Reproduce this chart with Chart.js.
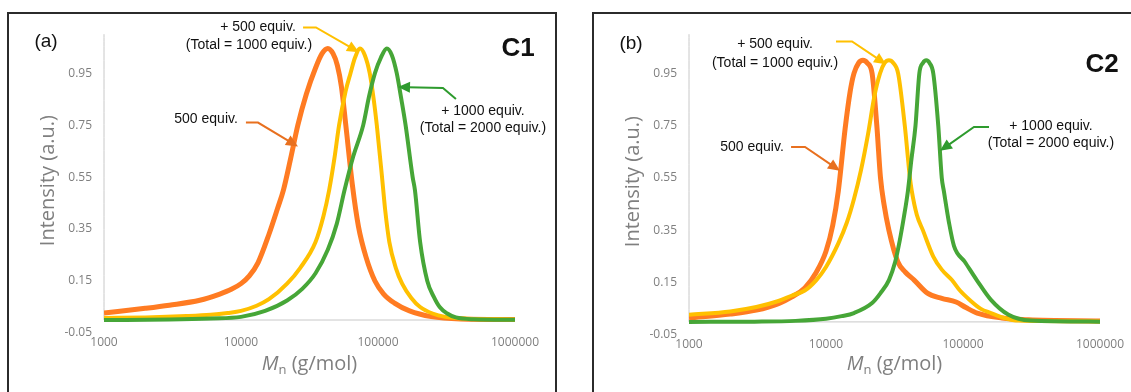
<!DOCTYPE html>
<html>
<head>
<meta charset="utf-8">
<script src="https://cdn.jsdelivr.net/npm/chart.js@4.4.1/dist/chart.umd.min.js"></script>
<style>
html, body { margin: 0; padding: 0; background: #fff; overflow: hidden; width: 1131px; height: 392px; }
.frame { position: absolute; top: 12px; height: 420px; border: 2px solid #2b2b2b; box-sizing: border-box; }
.box { position: absolute; }
</style>
</head>
<body>
<div class="frame" style="left:7px;width:550px"></div>
<div class="frame" style="left:592px;width:560px"></div>
<div class="box" style="left:10px;top:15px"><canvas id="c1" width="543" height="377"></canvas></div>
<div class="box" style="left:595px;top:15px"><canvas id="c2" width="536" height="377"></canvas></div>
<script>
"use strict";

var xTicks = [1000, 10000, 100000, 1000000];
var yTicks = [-0.05, 0.15, 0.35, 0.55, 0.75, 0.95];
var yMin = -0.05, yMax = 1.1;

// C1 - 500 equiv.
var c1OrangeM = [1000, 2000, 3000, 5000, 7000, 8500, 10000, 11500, 13300, 16000, 18500, 20400, 23000, 26000, 30000, 35000, 39000, 43000, 47000, 50500, 54000, 58500, 65000, 72000, 82000, 95000, 110000, 132000, 170000, 245000, 400000, 1000000];
var c1OrangeI = [0.027, 0.045, 0.057, 0.076, 0.1, 0.118, 0.14, 0.17, 0.22, 0.33, 0.43, 0.5, 0.62, 0.75, 0.87, 0.97, 1.025, 1.045, 1.025, 0.98, 0.9, 0.74, 0.52, 0.36, 0.24, 0.15, 0.1, 0.065, 0.035, 0.013, 0.004, 0.002];
// C1 - + 500 equiv. (total 1000)
var c1YellowM = [1000, 2000, 4000, 6000, 8000, 10000, 13000, 16000, 21700, 27000, 35000, 40000, 44000, 48000, 52000, 58000, 63000, 68000, 74000, 80000, 87000, 93000, 98000, 107000, 113000, 121000, 135000, 150000, 175000, 203000, 250000, 310000, 450000, 1000000];
var c1YellowI = [0.008, 0.01, 0.015, 0.02, 0.027, 0.035, 0.055, 0.08, 0.14, 0.2, 0.3, 0.4, 0.5, 0.62, 0.75, 0.88, 0.95, 1.01, 1.045, 1.02, 0.95, 0.85, 0.75, 0.55, 0.42, 0.3, 0.2, 0.14, 0.085, 0.05, 0.025, 0.012, 0.005, 0.002];
// C1 - + 1000 equiv. (total 2000)
var c1GreenM = [1000, 3000, 6000, 10000, 15000, 21700, 28000, 35000, 43000, 50000, 57000, 66000, 78000, 86000, 95000, 105000, 116000, 126000, 137000, 148000, 159000, 179000, 186000, 203000, 229000, 255000, 282000, 320000, 370000, 500000, 1000000];
var c1GreenI = [0.0, 0.002, 0.006, 0.012, 0.035, 0.075, 0.12, 0.18, 0.27, 0.37, 0.5, 0.63, 0.75, 0.86, 0.95, 1.01, 1.045, 1.02, 0.95, 0.85, 0.75, 0.55, 0.5, 0.3, 0.15, 0.09, 0.05, 0.025, 0.01, 0.003, 0.001];

// C2 - 500 equiv.
var c2OrangeM = [1000, 2000, 3100, 4500, 5600, 7000, 8500, 10000, 11200, 12300, 13800, 15000, 16000, 17300, 18600, 20000, 21700, 23500, 25000, 26500, 28800, 33400, 38000, 44000, 55000, 70000, 89000, 105000, 127000, 192000, 300000, 1000000];
var c2OrangeI = [0.015, 0.03, 0.045, 0.07, 0.095, 0.13, 0.19, 0.27, 0.37, 0.5, 0.74, 0.88, 0.95, 0.99, 1.0, 0.99, 0.95, 0.75, 0.55, 0.45, 0.35, 0.23, 0.19, 0.16, 0.11, 0.09, 0.076, 0.055, 0.034, 0.015, 0.008, 0.004];
// C2 - + 500 equiv. (total 1000)
var c2YellowM = [1000, 2000, 3100, 4500, 5600, 7000, 8500, 10000, 12300, 14200, 16000, 18000, 20300, 22500, 24800, 26800, 28800, 31000, 33600, 37600, 41000, 42300, 46000, 51000, 60700, 70000, 83000, 95000, 112000, 135000, 160000, 200000, 256000, 1000000];
var c2YellowI = [0.027, 0.04, 0.057, 0.08, 0.1, 0.12, 0.16, 0.21, 0.3, 0.38, 0.47, 0.58, 0.72, 0.86, 0.95, 0.99, 1.0, 0.99, 0.95, 0.75, 0.55, 0.5, 0.41, 0.35, 0.25, 0.2, 0.16, 0.12, 0.084, 0.05, 0.034, 0.015, 0.005, 0.002];
// C2 - + 1000 equiv. (total 2000)
var c2GreenM = [1000, 3000, 6000, 10000, 13000, 16000, 21700, 25000, 28800, 32000, 34500, 37000, 39600, 42000, 45000, 48000, 51000, 54000, 57000, 60700, 66000, 70000, 72500, 79000, 86000, 103000, 126000, 160000, 215000, 310000, 1000000];
var c2GreenI = [0.0, 0.001, 0.004, 0.012, 0.022, 0.034, 0.072, 0.11, 0.16, 0.23, 0.31, 0.4, 0.5, 0.62, 0.75, 0.95, 0.99, 1.0, 0.99, 0.95, 0.75, 0.55, 0.5, 0.38, 0.29, 0.23, 0.16, 0.084, 0.027, 0.005, 0.001];

// annotations, positions as [log10(Mn), intensity]
var c1Notes = [
    { text: '(a)', at: [2.577, 1.069], font: '19px "Liberation Sans"' },
    { text: 'C1', at: [6.022, 1.042], font: 'bold 26px "Liberation Sans"' },
    { text: '+ 500 equiv.', at: [4.124, 1.126] },
    { text: '(Total = 1000 equiv.)', at: [4.058, 1.057] },
    { text: '500 equiv.', at: [3.745, 0.775] },
    { text: '+ 1000 equiv.', at: [5.766, 0.805] },
    { text: '(Total = 2000 equiv.)', at: [5.766, 0.740] }
];
var c1Arrows = [
    { color: '#FFC000', path: [[4.453, 1.126], [4.547, 1.126], [4.861, 1.031]] },
    { color: '#E8701F', path: [[4.036, 0.760], [4.124, 0.760], [4.416, 0.668]] },
    { color: '#2E9B2E', path: [[5.569, 0.851], [5.474, 0.893], [5.146, 0.897]] }
];
var c2Notes = [
    { text: '(b)', at: [2.577, 1.065], font: '19px "Liberation Sans"' },
    { text: 'C2', at: [6.015, 0.981], font: 'bold 26px "Liberation Sans"' },
    { text: '+ 500 equiv.', at: [3.628, 1.061] },
    { text: '(Total = 1000 equiv.)', at: [3.628, 0.989] },
    { text: '500 equiv.', at: [3.460, 0.669] },
    { text: '+ 1000 equiv.', at: [5.642, 0.749] },
    { text: '(Total = 2000 equiv.)', at: [5.642, 0.684] }
];
var c2Arrows = [
    { color: '#FFC000', path: [[4.073, 1.072], [4.190, 1.072], [4.438, 0.985]] },
    { color: '#E8701F', path: [[3.745, 0.669], [3.847, 0.669], [4.102, 0.578]] },
    { color: '#2E9B2E', path: [[5.190, 0.745], [5.080, 0.745], [4.832, 0.654]] }
];

function toPoints(m, v) {
    return m.map(function(x, i) { return { x: x, y: v[i] }; });
}

var notesPlugin = {
    id: 'notes',
    afterDraw: function(chart, args, opts) {
        var ctx = chart.ctx, xs = chart.scales.x, ys = chart.scales.y, area = chart.chartArea;
        function px(p) {
            return [xs.getPixelForValue(Math.pow(10, p[0])), ys.getPixelForValue(p[1])];
        }
        ctx.save();
        // axis titles
        ctx.fillStyle = '#7f7f7f';
        ctx.font = '20px "Open Sans"';
        ctx.textAlign = 'center';
        ctx.textBaseline = 'middle';
        ctx.save();
        ctx.translate(38, (area.top + area.bottom) / 2 - 3);
        ctx.rotate(-Math.PI / 2);
        ctx.fillText('Intensity (a.u.)', 0, 0);
        ctx.restore();

        var cx = (area.left + area.right) / 2, base = 355;
        ctx.textBaseline = 'alphabetic';
        ctx.textAlign = 'left';
        ctx.font = 'italic 20px "Open Sans"';
        var wM = ctx.measureText('M').width;
        ctx.font = '13px "Open Sans"';
        var wn = ctx.measureText('n').width;
        ctx.font = '20px "Open Sans"';
        var wr = ctx.measureText(' (g/mol)').width;
        var x0 = cx - (wM + wn + wr) / 2;
        ctx.font = 'italic 20px "Open Sans"';
        ctx.fillText('M', x0, base);
        ctx.font = '13px "Open Sans"';
        ctx.fillText('n', x0 + wM, base + 4);
        ctx.font = '20px "Open Sans"';
        ctx.fillText(' (g/mol)', x0 + wM + wn, base);

        // text notes
        ctx.textAlign = 'center';
        ctx.textBaseline = 'middle';
        ctx.fillStyle = '#111';
        opts.notes.forEach(function(n) {
            var p = px(n.at);
            ctx.font = n.font || '14px "Liberation Sans"';
            ctx.fillText(n.text, p[0], p[1]);
        });

        // arrows
        opts.arrows.forEach(function(a) {
            var pts = a.path.map(px);
            var k = pts.length, tip = pts[k - 1], prev = pts[k - 2];
            var ang = Math.atan2(tip[1] - prev[1], tip[0] - prev[0]);
            var head = 12, half = 5.5;
            ctx.strokeStyle = a.color;
            ctx.fillStyle = a.color;
            ctx.lineWidth = 2;
            ctx.beginPath();
            ctx.moveTo(pts[0][0], pts[0][1]);
            for (var i = 1; i < k - 1; i++) ctx.lineTo(pts[i][0], pts[i][1]);
            ctx.lineTo(tip[0] - Math.cos(ang) * head * 0.8, tip[1] - Math.sin(ang) * head * 0.8);
            ctx.stroke();
            var bx = tip[0] - Math.cos(ang) * head, by = tip[1] - Math.sin(ang) * head;
            ctx.beginPath();
            ctx.moveTo(tip[0], tip[1]);
            ctx.lineTo(bx + Math.sin(ang) * half, by - Math.cos(ang) * half);
            ctx.lineTo(bx - Math.sin(ang) * half, by + Math.cos(ang) * half);
            ctx.closePath();
            ctx.fill();
        });
        ctx.restore();
    }
};

function makeChart(id, series, notes, arrows, pad) {
    var tickFont = { family: 'Open Sans', size: 12 };
    var datasets = [
        { data: toPoints(series.greenM, series.greenI), borderColor: '#46A637', borderWidth: 4 },
        { data: toPoints(series.yellowM, series.yellowI), borderColor: '#FFC000', borderWidth: 4 },
        { data: toPoints(series.orangeM, series.orangeI), borderColor: '#FF7B22', borderWidth: 5 },
        { data: toPoints([xTicks[0], xTicks[xTicks.length - 1]], [0, 0]), borderColor: '#c8c8c8', borderWidth: 1, clip: false },
        { data: toPoints([xTicks[0], xTicks[0]], [0, yMax]), borderColor: '#c8c8c8', borderWidth: 1, clip: false }
    ];
    return new Chart(document.getElementById(id), {
        type: 'line',
        data: { datasets: datasets },
        options: {
            responsive: false,
            animation: false,
            events: [],
            layout: { padding: { left: 0, top: pad.top, right: pad.right, bottom: 0 } },
            elements: {
                point: { radius: 0 },
                line: { cubicInterpolationMode: 'monotone', fill: false }
            },
            plugins: {
                legend: { display: false },
                tooltip: { enabled: false },
                notes: { notes: notes, arrows: arrows }
            },
            scales: {
                x: {
                    type: 'logarithmic',
                    min: xTicks[0],
                    max: xTicks[xTicks.length - 1],
                    border: { display: false },
                    grid: { display: false, drawTicks: false },
                    afterBuildTicks: function(s) { s.ticks = xTicks.map(function(v) { return { value: v }; }); },
                    afterFit: function(s) { s.height = pad.xHeight; },
                    ticks: {
                        autoSkip: false, maxRotation: 0, padding: 2, color: '#7f7f7f', font: tickFont,
                        callback: function(v) { return String(v); }
                    }
                },
                y: {
                    type: 'linear',
                    min: yMin,
                    max: yMax,
                    border: { display: false },
                    grid: { display: false, drawTicks: false },
                    afterBuildTicks: function(s) { s.ticks = yTicks.map(function(v) { return { value: v }; }); },
                    afterFit: function(s) { s.width = 94; },
                    ticks: {
                        padding: 12, color: '#7f7f7f', font: tickFont,
                        callback: function(v) { return v.toFixed(2); }
                    }
                }
            }
        },
        plugins: [notesPlugin]
    });
}

makeChart('c1', {
    orangeM: c1OrangeM, orangeI: c1OrangeI,
    yellowM: c1YellowM, yellowI: c1YellowI,
    greenM: c1GreenM, greenI: c1GreenI
}, c1Notes, c1Arrows, { top: 17, right: 38, xHeight: 59 });

makeChart('c2', {
    orangeM: c2OrangeM, orangeI: c2OrangeI,
    yellowM: c2YellowM, yellowI: c2YellowI,
    greenM: c2GreenM, greenI: c2GreenI
}, c2Notes, c2Arrows, { top: 18, right: 31, xHeight: 57 });
</script>
</body>
</html>
